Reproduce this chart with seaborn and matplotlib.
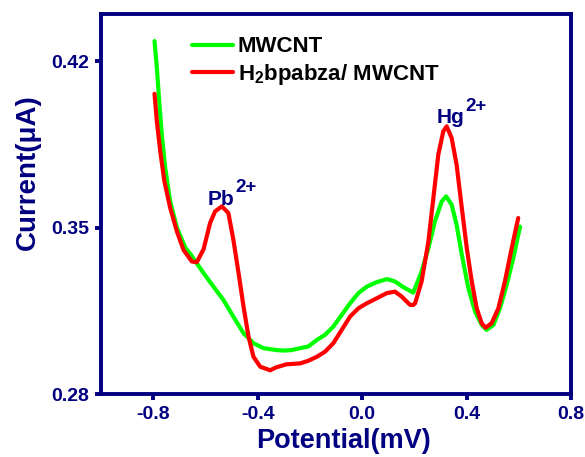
import numpy as np
import pandas as pd
import matplotlib
matplotlib.use('Agg')
import matplotlib.pyplot as plt
import seaborn as sns

# ---------------------------------------------------------
# 数据
# ---------------------------------------------------------
mwcnt_x = [-0.795, -0.786, -0.777, -0.767, -0.754, -0.735, -0.709, -0.677, -0.658,
           -0.639, -0.607, -0.569, -0.531, -0.493, -0.454, -0.416, -0.378, -0.327,
           -0.300, -0.270, -0.237, -0.206, -0.173, -0.142, -0.110, -0.078, -0.046,
           -0.014, 0.018, 0.056, 0.095, 0.126, 0.158, 0.196, 0.203, 0.228, 0.254,
           0.279, 0.305, 0.322, 0.343, 0.362, 0.382, 0.407, 0.433, 0.458, 0.477,
           0.503, 0.528, 0.554, 0.579, 0.605]
mwcnt_y = [0.4286, 0.4174, 0.4033, 0.3892, 0.3753, 0.3611, 0.3500, 0.3416, 0.3390,
           0.3360, 0.3309, 0.3252, 0.3196, 0.3126, 0.3056, 0.3014, 0.2993, 0.2985,
           0.2983, 0.2985, 0.2993, 0.3000, 0.3028, 0.3049, 0.3084, 0.3133, 0.3182,
           0.3225, 0.3252, 0.3271, 0.3284, 0.3274, 0.3250, 0.3227, 0.3246, 0.3316, 0.3414,
           0.3527, 0.3611, 0.3632, 0.3597, 0.3513, 0.3386, 0.3246, 0.3147, 0.3091, 0.3070,
           0.3091, 0.3161, 0.3260, 0.3372, 0.3505]

comp_x = [-0.795, -0.786, -0.773, -0.757, -0.735, -0.709, -0.684, -0.652, -0.633,
          -0.607, -0.582, -0.563, -0.537, -0.512, -0.493, -0.473, -0.454, -0.435,
          -0.416, -0.390, -0.352, -0.330, -0.290, -0.237, -0.206, -0.173, -0.142,
          -0.110, -0.078, -0.046, -0.014, 0.018, 0.056, 0.095, 0.126, 0.152, 0.184,
          0.196, 0.203, 0.228, 0.254, 0.273, 0.292, 0.311, 0.324, 0.343, 0.362,
          0.382, 0.401, 0.420, 0.439, 0.458, 0.473, 0.496, 0.522, 0.547, 0.573, 0.598]
comp_y = [0.4064, 0.3948, 0.3822, 0.3695, 0.3584, 0.3484, 0.3407, 0.3358, 0.3355,
          0.3410, 0.3520, 0.3569, 0.3590, 0.3562, 0.3450, 0.3309, 0.3168, 0.3042,
          0.2957, 0.2915, 0.2900, 0.2912, 0.2925, 0.2929, 0.2940, 0.2957, 0.2978,
          0.3014, 0.3070, 0.3126, 0.3161, 0.3182, 0.3203, 0.3225, 0.3231, 0.3210, 0.3175,
          0.3175, 0.3182, 0.3274, 0.3442, 0.3625, 0.3808, 0.3906, 0.3927, 0.3878, 0.3766,
          0.3583, 0.3414, 0.3274, 0.3161, 0.3098, 0.3079, 0.3098, 0.3161, 0.3274, 0.3414,
          0.3541]

labels = ['MWCNT', r'H$_2$bpabza/ MWCNT']
colors = ['#00ff00', '#ff0000']

# ---------------------------------------------------------
# 样式
# ---------------------------------------------------------
sns.set_style('ticks')
plt.rcParams['font.family'] = ['Liberation Sans', 'DejaVu Sans']
plt.rcParams['font.weight'] = 'bold'
plt.rcParams['mathtext.fontset'] = 'custom'
plt.rcParams['mathtext.rm'] = 'Liberation Sans:bold'
plt.rcParams['mathtext.it'] = 'Liberation Sans:bold'
plt.rcParams['mathtext.bf'] = 'Liberation Sans:bold'
navy = '#000080'

fig = plt.figure(figsize=(5.85, 4.57), dpi=100)
ax = fig.add_axes([0.1726, 0.1378, 0.8034, 0.8316])

sns.lineplot(x=mwcnt_x, y=mwcnt_y, ax=ax, color=colors[0], lw=3, sort=False,
             estimator=None, label=labels[0])
sns.lineplot(x=comp_x, y=comp_y, ax=ax, color=colors[1], lw=3, sort=False,
             estimator=None, label=labels[1])

ax.set_xlim(-1.0, 0.8)
ax.set_ylim(0.28, 0.44)
ax.set_xticks([-0.8, -0.4, 0.0, 0.4, 0.8])
ax.set_yticks([0.28, 0.35, 0.42])
ax.set_xticklabels(['-0.8', '-0.4', '0.0', '0.4', '0.8'])
ax.set_yticklabels(['0.28', '0.35', '0.42'])

for sp in ax.spines.values():
    sp.set_visible(True)
    sp.set_color(navy)
    sp.set_linewidth(2.8)
ax.tick_params(axis='both', direction='out', length=4.5, width=2.8, color=navy,
               labelcolor=navy, labelsize=14, pad=4)
for lab in ax.get_xticklabels() + ax.get_yticklabels():
    lab.set_fontweight('bold')

ax.set_xlabel('Potential(mV)', fontsize=19.5, fontweight='bold', color=navy)
ax.set_ylabel('Current(μA)', fontsize=20, fontweight='bold', color=navy)
ax.xaxis.set_label_coords(0.516, -0.089)
ax.yaxis.set_label_coords(-0.127, 0.584)

# 峰标注
pb = ax.text(-0.59, 0.3597, 'Pb', fontsize=15, fontweight='bold', color=navy)
hg = ax.text(0.287, 0.3939, 'Hg', fontsize=15, fontweight='bold', color=navy)
for t in (pb, hg):
    ax.annotate('2+', xy=(1.03, 0.86), xycoords=t, fontsize=13.5,
                fontweight='bold', color=navy, ha='left', va='baseline')

leg = ax.legend(loc='upper left', bbox_to_anchor=(0.1936, 0.941), frameon=False,
                fontsize=16, handlelength=1.85, handletextpad=0.2, labelspacing=0.2,
                borderpad=0, borderaxespad=0)
for t in leg.get_texts():
    t.set_fontweight('bold')
    t.set_color('black')

fig.savefig('out.png', dpi=100)
